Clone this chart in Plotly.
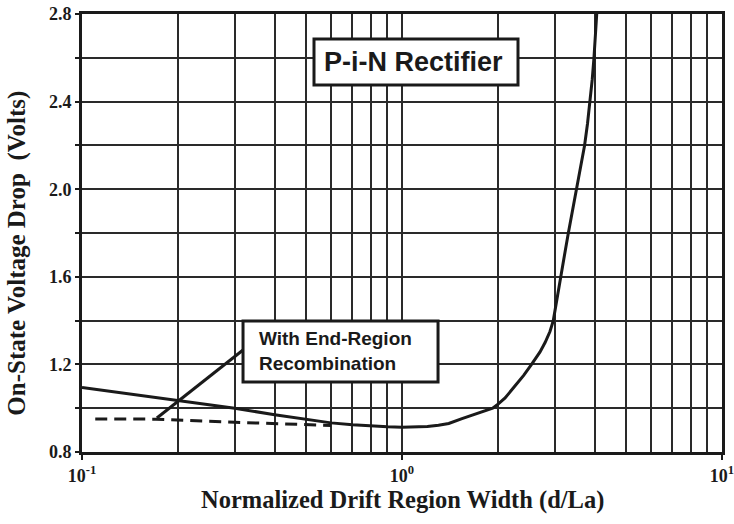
import plotly.graph_objects as go

# Solid curve: on-state voltage drop vs normalized drift width
width_ratio = [0.1, 0.15, 0.2, 0.25, 0.3, 0.4, 0.5, 0.6, 0.7, 0.8, 0.9, 1.0, 1.1, 1.2, 1.3, 1.4,
               1.54, 1.7, 1.82, 1.92, 2.0, 2.1, 2.25, 2.4, 2.54, 2.7, 2.8, 2.9, 2.97, 3.05,
               3.12, 3.22, 3.31, 3.41, 3.51, 3.62, 3.72, 3.80, 3.87, 3.93, 3.98, 4.02, 4.06]
voltage_drop = [1.095, 1.06, 1.035, 1.016, 1.0, 0.97, 0.95, 0.933, 0.924, 0.918, 0.915, 0.913,
                0.914, 0.917, 0.922, 0.93, 0.952, 0.975, 0.99, 1.0, 1.02, 1.047, 1.1, 1.15,
                1.2, 1.257, 1.3, 1.35, 1.4, 1.5, 1.6, 1.7, 1.8, 1.9, 2.0, 2.1, 2.2, 2.3, 2.4,
                2.5, 2.6, 2.7, 2.8]

# Dashed curve: with end-region recombination
end_ratio = [0.11, 0.17, 0.3, 0.45, 0.6]
end_voltage = [0.951, 0.950, 0.936, 0.927, 0.921]

x_major = [0.1, 1, 10]
x_major_text = ["10<sup>-1</sup>", "10<sup>0</sup>", "10<sup>1</sup>"]
x_minor = [2, 3, 4, 5, 6, 7, 8, 9]
y_major = [0.8, 1.2, 1.6, 2.0, 2.4, 2.8]
y_major_text = ["0.8", "1.2", "1.6", "2.0", "2.4", "2.8"]

fig = go.Figure()
fig.add_trace(go.Scatter(x=end_ratio, y=end_voltage, mode="lines",
                         line=dict(color="#1a1a1a", width=3, dash="12px,7px"),
                         showlegend=False))
fig.add_trace(go.Scatter(x=width_ratio, y=voltage_drop, mode="lines",
                         line=dict(color="#1a1a1a", width=3),
                         showlegend=False))

minor_x = [m * d for d in (0.1, 1) for m in x_minor]

grid_c = "#2a2a2a"
fig.update_layout(
    width=734, height=524,
    margin=dict(l=82, r=12, t=14, b=72),
    paper_bgcolor="white", plot_bgcolor="white",
    xaxis=dict(type="log", range=[-1, 1], tickmode="array", tickvals=x_major,
               ticktext=x_major_text, ticks="outside", ticklen=5, tickwidth=2,
               tickcolor="#1a1a1a", showgrid=True, gridcolor=grid_c, gridwidth=1.5,
               showline=True, linecolor="#1a1a1a", linewidth=3, mirror=True,
               zeroline=False, automargin=False, ticklabeloverflow="allow",
               tickfont=dict(family="Liberation Serif", size=18, color="#1a1a1a", weight="bold"),
               minor=dict(tickmode="array", tickvals=minor_x, showgrid=True,
                          gridcolor=grid_c, gridwidth=1.5, ticks="")),
    yaxis=dict(range=[0.8, 2.8], tickmode="array", tickvals=y_major, ticktext=y_major_text,
               ticks="outside", ticklen=4, tickwidth=1.5, tickcolor="#1a1a1a",
               showgrid=True, gridcolor=grid_c, gridwidth=1.5,
               showline=True, linecolor="#1a1a1a", linewidth=3, mirror=True,
               zeroline=False, automargin=False, ticklabeloverflow="allow",
               tickfont=dict(family="Liberation Serif", size=18, color="#1a1a1a", weight="bold"),
               minor=dict(dtick=0.2, tick0=0.8, showgrid=True, gridcolor=grid_c,
                          gridwidth=1.5, ticks="outside", ticklen=4, tickcolor="#1a1a1a")),
)

# Boxes
fig.add_shape(type="rect", xref="paper", yref="paper", x0=0.3625, x1=0.68125,
              y0=0.838, y1=0.943, line=dict(color="#1a1a1a", width=3),
              fillcolor="white", layer="above")
fig.add_shape(type="rect", xref="paper", yref="paper", x0=0.2516, x1=0.5563,
              y0=0.1598, y1=0.2991, line=dict(color="#1a1a1a", width=3),
              fillcolor="white", layer="above")
# Leader line
fig.add_shape(type="line", xref="paper", yref="paper", x0=0.117, y0=0.0776,
              x1=0.2516, y1=0.2329, line=dict(color="#1a1a1a", width=3), layer="above")

fig.add_annotation(xref="paper", yref="paper", x=0.518, y=0.8905, xanchor="center",
                   yanchor="middle", text="<b>P-i-N Rectifier</b>",
                   showarrow=False, font=dict(family="Liberation Sans", size=27, color="#1a1a1a"))
fig.add_annotation(xref="paper", yref="paper", x=0.2734, y=0.2295, xanchor="left",
                   yanchor="middle", align="left",
                   text="<b>With End-Region<br>Recombination</b>",
                   showarrow=False, font=dict(family="Liberation Sans", size=19, color="#1a1a1a"))

# Axis titles
fig.add_annotation(xref="paper", yref="paper", x=0.5, y=-0.11, xanchor="center",
                   yanchor="middle",
                   text="<b>Normalized Drift Region Width (d/La)</b>", showarrow=False,
                   font=dict(family="Liberation Serif", size=24.5, color="#1a1a1a"))
fig.add_annotation(xref="paper", yref="paper", x=-0.1016, y=0.455, xanchor="center",
                   yanchor="middle", textangle=-90,
                   text="<b>On-State Voltage Drop&nbsp; (Volts)</b>", showarrow=False,
                   font=dict(family="Liberation Serif", size=25, color="#1a1a1a"))

fig.write_html("out.html")
